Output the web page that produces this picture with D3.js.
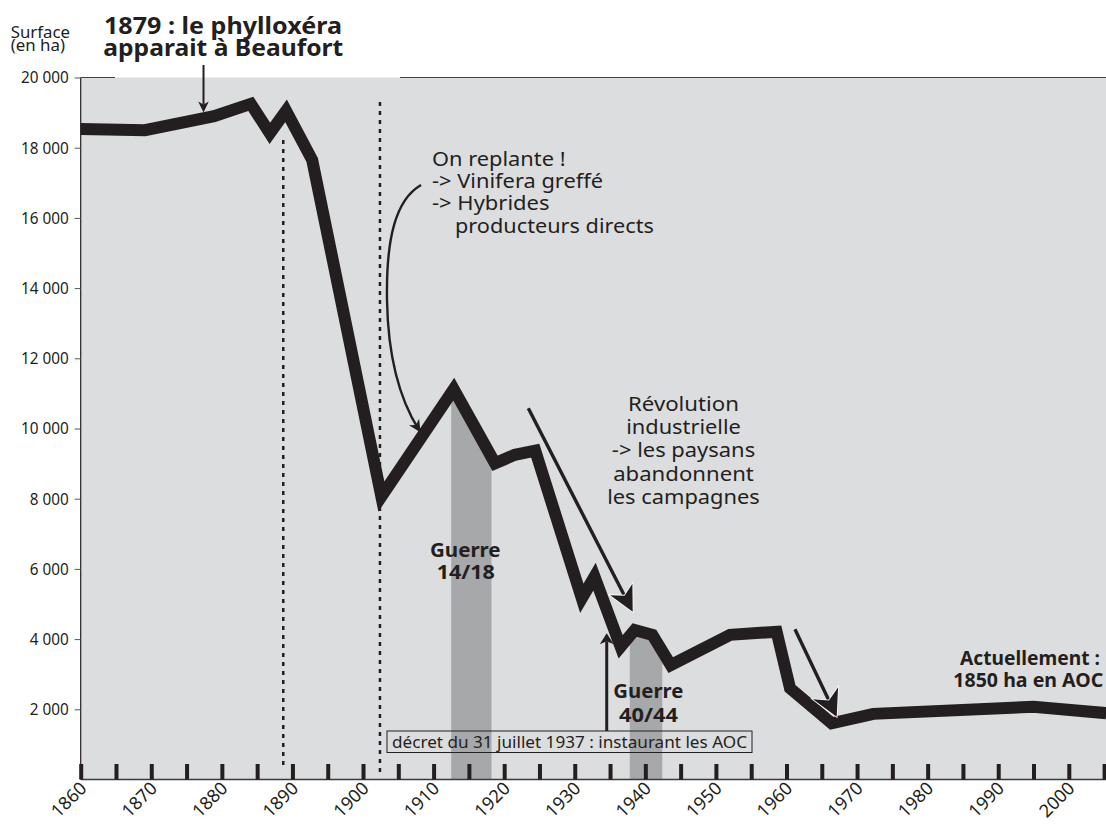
<!DOCTYPE html>
<html><head><meta charset="utf-8">
<script src="https://cdn.jsdelivr.net/npm/d3@7"></script>
<style>
body{margin:0;background:#fff;}
svg{display:block;}
text{font-family:"Noto Sans",sans-serif;fill:#231f20;}
</style>
</head><body>
<svg id="c" width="1106" height="825"></svg>
<script>
// ---------- DATA ----------
const years    = [1860, 1869.1, 1878.9, 1884.1, 1886.8, 1889.1, 1892.8, 1902.6, 1912.85, 1918.7, 1921.5, 1924.4, 1931, 1932.8, 1936.5, 1938.5, 1941, 1943.6, 1952, 1958.6, 1960.5, 1966.4, 1972.3, 1995, 2005.3];
const surfaces = [18530, 18500, 18900, 19250, 18410, 19050, 17650, 8060, 11120, 9010, 9250, 9370, 5160, 5780, 3780, 4260, 4120, 3260, 4120, 4210, 2600, 1600, 1870, 2070, 1890];
const xTickYears  = d3.range(1860, 2006, 5);
const xLabelYears = d3.range(1860, 2001, 10);
const yTickValues = d3.range(2000, 20001, 2000);
const warPeriods  = [[1912.5, 1918.2], [1937.8, 1942.4]];
const warLabels   = [["Guerre", "14/18"], ["Guerre", "40/44"]];
const markerLines = [[1888.7, 413, 18362], [1902.4, 214, 19407]];   // [year, from, to]
const phylloArrow = [[1877.4, 20356], [1877.4, 19003]];
const replantCurve = [[1908.22,16937],[1904.53,16510],[1903.26,15370],[1903.40,13661],[1903.54,11952],[1905.24,10812],[1907.93,9957]];
const revolutionArrow = [[1923.42,10575],[1938.21,4781]];
const exodeArrow      = [[1961.2,4279],[1967.11,1789]];
const decretArrow     = [[1934.53,1382],[1934.53,4165]];

// ---------- SETUP ----------
const ink = "#231f20";
const W = 1106, H = 825;
const svg = d3.select("#c");
const x = d3.scaleLinear().domain([1860, 2005]).range([80.7, 1104.1]);
const y = d3.scaleLinear().domain([0, 20000]).range([779.5, 77.5]);
const pL = x(1860), pR = W, pT = y(20000), pB = y(0);
const P = d => [x(d[0]), y(d[1])];

const MW = {" ":0.212,"0":0.513,"1":0.513,"2":0.513,"3":0.513,"4":0.513,"5":0.513,"6":0.513,"7":0.513,"8":0.513,"9":0.513,
  "-":0.307,">":0.596,"!":0.275,"O":0.689,"V":0.58,"H":0.658,"a":0.482,"b":0.569,"c":0.418,"d":0.564,"e":0.501,"é":0.501,
  "f":0.292,"g":0.556,"i":0.234,"l":0.236,"n":0.555,"o":0.549,"p":0.569,"r":0.347,"s":0.396,"t":0.361,"u":0.551,"y":0.453};
const myriadW = (s, size) => [...s].reduce((a, c) => a + (MW[c] || 0.5), 0) * size;

svg.append("rect").attr("x", pL).attr("y", pT).attr("width", pR - pL).attr("height", pB - pT).attr("fill", "#dcdddf");

const series = years.map((yr, i) => [yr, surfaces[i]]);
const area = d3.area().x(d => x(d[0])).y0(y(0)).y1(d => y(d[1]));
const defs = svg.append("defs");
warPeriods.forEach((p, i) => {
  defs.append("clipPath").attr("id", "war" + i).append("rect")
    .attr("x", x(p[0])).attr("y", 0).attr("width", x(p[1]) - x(p[0])).attr("height", pB);
  svg.append("path").datum(series).attr("d", area).attr("fill", "#a7a8aa").attr("clip-path", `url(#war${i})`);
});

markerLines.forEach(m => {
  svg.append("line").attr("x1", x(m[0])).attr("x2", x(m[0])).attr("y1", y(m[1])).attr("y2", y(m[2]))
    .attr("stroke", ink).attr("stroke-width", 2.5).attr("stroke-dasharray", "4,5");
});

svg.append("line").attr("x1", pL).attr("x2", pL).attr("y1", pT).attr("y2", pB).attr("stroke", ink).attr("stroke-width", 1.2);
svg.append("line").attr("x1", pL).attr("x2", pR).attr("y1", pB).attr("y2", pB).attr("stroke", "#3a3a3a").attr("stroke-width", 1.3);
svg.append("line").attr("x1", pL).attr("x2", 115).attr("y1", pT).attr("y2", pT).attr("stroke", "#444").attr("stroke-width", 1);
svg.append("line").attr("x1", 400).attr("x2", pR).attr("y1", pT).attr("y2", pT).attr("stroke", "#444").attr("stroke-width", 1);

const line = d3.line().x(d => x(d[0])).y(d => y(d[1]));
svg.append("path").datum(series).attr("d", line).attr("fill", "none").attr("stroke", ink)
  .attr("stroke-width", 12).attr("stroke-linejoin", "miter").attr("stroke-miterlimit", 10);

function head(tip, from, L, Wd, N, outline) {
  const dx = tip[0] - from[0], dy = tip[1] - from[1], len = Math.hypot(dx, dy);
  const ux = dx / len, uy = dy / len, px = -uy, py = ux;
  const pts = [[0,0],[-L,-Wd],[-L+N,0],[-L,Wd]].map(([a,b]) => [tip[0] + ux*a + px*b, tip[1] + uy*a + py*b]);
  const p = svg.append("path").attr("d", "M" + pts.map(q => q.join(",")).join("L") + "Z").attr("fill", ink);
  if (outline) p.attr("stroke", "#fff").attr("stroke-width", 1.6).attr("paint-order", "stroke").attr("stroke-linejoin", "miter");
}
function straightArrow(a, sw, L, Wd, N, outline) {
  const s = P(a[0]), t = P(a[1]);
  const dx = t[0]-s[0], dy = t[1]-s[1], len = Math.hypot(dx, dy);
  const e = [t[0] - dx/len*(L-N), t[1] - dy/len*(L-N)];
  svg.append("line").attr("x1", s[0]).attr("y1", s[1]).attr("x2", e[0]).attr("y2", e[1]).attr("stroke", ink).attr("stroke-width", sw);
  head(t, s, L, Wd, N, outline);
}
straightArrow(phylloArrow, 2, 11, 5.3, 3, false);
straightArrow(revolutionArrow, 3.4, 25, 12.5, 7, true);
straightArrow(exodeArrow, 3.4, 26, 14, 8, true);
straightArrow(decretArrow, 3, 11, 7, 3, false);

{
  const c = replantCurve.map(P);
  const path = d3.path();
  path.moveTo(...c[0]);
  path.bezierCurveTo(...c[1], ...c[2], ...c[3]);
  path.bezierCurveTo(...c[4], ...c[5], ...c[6]);
  svg.append("path").attr("d", path.toString()).attr("fill", "none").attr("stroke", ink).attr("stroke-width", 2.4);
  head([c[6][0] + 1.5, c[6][1] + 2.2], c[5], 12, 6, 3.5, false);
}

function txt(str, tx, ty, o = {}) {
  const t = svg.append("text").attr("x", tx).attr("y", ty).text(str)
    .attr("font-size", o.size || 18).attr("font-weight", o.weight || "normal")
    .attr("text-anchor", o.anchor || "start");
  if (o.len) t.attr("textLength", o.len).attr("lengthAdjust", "spacingAndGlyphs");
  return t;
}

txt(warLabels[0][0], 465.3, 556.7, {size: 20, weight: "bold", anchor: "middle", len: 70.7});
txt(warLabels[0][1], 465.8, 579.3, {size: 20, weight: "bold", anchor: "middle", len: 58.3});
txt(warLabels[1][0], 648.3, 698.3, {size: 20, weight: "bold", anchor: "middle", len: 70});
txt(warLabels[1][1], 648.5, 721.7, {size: 20, weight: "bold", anchor: "middle", len: 59});

const replant = [["On replante !", 432], ["-> Vinifera greffé", 432], ["-> Hybrides", 432], ["producteurs directs", 455]];
replant.forEach((r, i) => txt(r[0], r[1], 166 + i * 22.2, {size: 19.5, len: myriadW(r[0], 24.3)}));

const rev = [["Révolution", 111], ["industrielle", 114.7], ["-> les paysans", 143.3], ["abandonnent", 140.7], ["les campagnes", 152.7]];
rev.forEach((r, i) => txt(r[0], 683.5, 410.7 + i * 23.3, {size: 20, anchor: "middle", len: r[1]}));

txt("Actuellement :", 1030, 665, {size: 19, weight: "bold", anchor: "middle", len: 140});
txt("1850 ha en AOC", 1028.3, 686.7, {size: 19, weight: "bold", anchor: "middle", len: 150});

svg.append("rect").attr("x", 387).attr("y", 731).attr("width", 365).attr("height", 21.5)
  .attr("fill", "none").attr("stroke", ink).attr("stroke-width", 1);
txt("décret du 31 juillet 1937 : instaurant les AOC", 392, 748, {size: 16, len: 355});

txt("1879 : le phylloxéra", 104, 34, {size: 24, weight: "bold", len: 238});
txt("apparait à Beaufort", 103.3, 55.5, {size: 24, weight: "bold", len: 240});
txt("Surface", 10.7, 37.5, {size: 16, len: 59.3});
txt("(en ha)", 10.7, 51, {size: 16, len: 54.3});

// y axis
const fmt = v => d3.format(",")(v).replace(/,/g, " ");
const yAx = svg.append("g").attr("transform", `translate(${pL},0)`)
  .call(d3.axisLeft(y).tickValues(yTickValues).tickSize(6).tickPadding(6).tickFormat(fmt));
yAx.attr("font-size", 17).attr("font-family", "Noto Sans").attr("color", ink);
yAx.select(".domain").remove();
yAx.selectAll(".tick line").attr("stroke", "#555").attr("stroke-width", 1);
yAx.selectAll(".tick text").attr("textLength", d => myriadW(fmt(d), 17.2)).attr("lengthAdjust", "spacingAndGlyphs");

// x ticks
const xTk = svg.append("g").attr("transform", `translate(0,${pB})`)
  .call(d3.axisBottom(x).tickValues(xTickYears).tickSizeInner(-15.5).tickSizeOuter(0).tickFormat(""));
xTk.select(".domain").remove();
xTk.selectAll(".tick line").attr("stroke", ink).attr("stroke-width", 4);

// x labels, rotated -45°
const c45 = Math.SQRT1_2;
const xLab = svg.append("g").selectAll("g").data(xLabelYears).join("g")
  .attr("transform", d => `matrix(${c45},${-c45},${c45},${c45},${x(d) + 7},${pB + 10})`);
xLab.append("text")
  .attr("x", 0).attr("y", 0)
  .attr("text-anchor", "end")
  .attr("font-size", 18)
  .text(d => d);
</script>
</body></html>
